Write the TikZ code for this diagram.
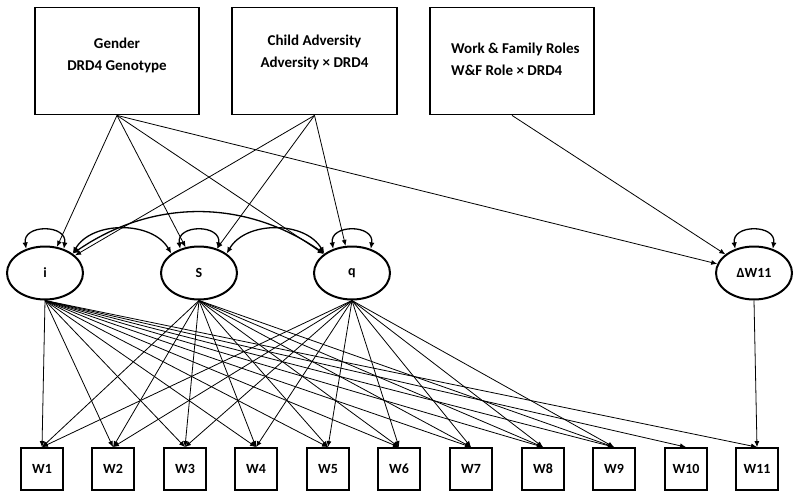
\documentclass[tikz,border=0pt]{standalone}
\usepackage{fontspec}
\setmainfont{Carlito}
\usetikzlibrary{shapes.geometric,arrows.meta}
\begin{document}
\begin{tikzpicture}[x=1pt,y=-1pt,
  every node/.style={font=\bfseries\fontsize{14}{22}\selectfont},
  bigbox/.style={draw,line width=1.8pt,minimum width=164pt,minimum height=107pt,inner sep=0pt},
  lbl/.style={inner sep=0pt,align=center,font=\bfseries\fontsize{15}{22}\selectfont},
  latent/.style={draw,ellipse,line width=2pt,minimum width=76pt,minimum height=53pt,inner sep=0pt},
  obs/.style={draw,line width=1.8pt,minimum width=42pt,minimum height=42pt,inner sep=0pt},
  reg/.style={-{Latex[length=6pt,width=5pt]},line width=0.8pt},
  cov/.style={{Latex[length=6.5pt,width=5.5pt]}-{Latex[length=6.5pt,width=5.5pt]},line width=1.3pt},
]
\useasboundingbox (0,0) rectangle (800,498);
% top boxes
\node[bigbox] (gen) at (117,61) {};
\node[bigbox,minimum width=165pt] (adv) at (314.5,61) {};
\node[bigbox] (wf) at (512,61) {};
\node[lbl] (gent) at (117,55) {Gender\\DRD4 Genotype};
\node[lbl] (advt) at (314.5,52) {Child Adversity\\Adversity × DRD4};
\node[lbl,align=left,anchor=west] (wft) at (451,59) {Work \& Family Roles\\W\&F Role × DRD4};
% latent variables
\node[latent] (i) at (45,273) {i};
\node[latent] (s) at (199,273) {S};
\node[latent] (q) at (352,273) {q};
\node[latent] (dw) at (754,273) {ΔW11};
% observed
\foreach \k/\x in {1/42,2/113,3/185,4/256,5/328,6/399,7/471,8/543,9/614,10/686,11/757}
  \node[obs] (w\k) at (\x,469) {W\k};
% predictors
\foreach \t in {i,s,q,dw} \draw[reg] (gen.south) -- (\t);
\foreach \t in {i,s,q} \draw[reg] (adv.south) -- (\t);
\draw[reg] (wf.south) -- (dw);
% loadings
\foreach \k in {1,...,11} \draw[reg] (i.south) -- (w\k.north);
\foreach \k in {1,...,9} \draw[reg] (s.south) -- (w\k.north);
\foreach \k in {1,...,9} \draw[reg] (q.south) -- (w\k.north);
\draw[reg] (dw.south) -- (w11.north);
% variances
\foreach \t in {i,s,q,dw}
  \draw[cov] (\t.128) .. controls +(-4,-25) and +(4,-25) .. (\t.52);
% covariances
\draw[cov] (i.35) .. controls +(19,-33) and +(-19,-33) .. (s.145);
\draw[cov] (s.35) .. controls +(19,-33) and +(-19,-33) .. (q.145);
\draw[cov] (i.35) .. controls +(80,-55) and +(-80,-55) .. (q.145);
\end{tikzpicture}
\end{document}
